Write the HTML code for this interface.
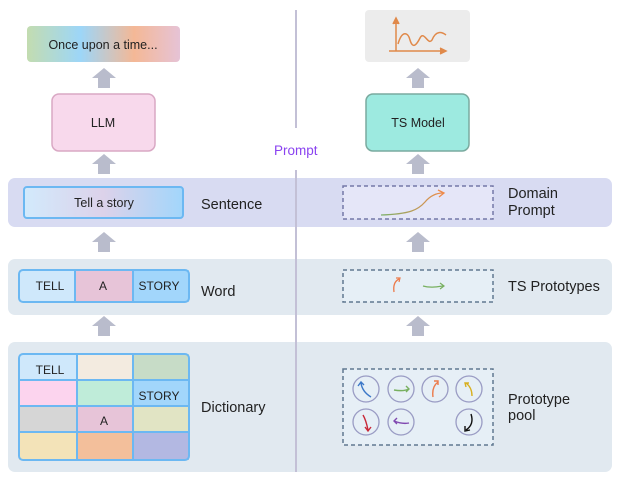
<!DOCTYPE html>
<html><head><meta charset="utf-8"><style>
body{margin:0;background:#fff;}
svg{display:block;font-family:"Liberation Sans",sans-serif;}
</style></head><body>
<svg width="621" height="481" viewBox="0 0 621 481" xmlns="http://www.w3.org/2000/svg">
<defs>
<linearGradient id="g1" x1="0" x2="1"><stop offset="0" stop-color="#c3dcb0"/><stop offset="0.35" stop-color="#9dd6f8"/><stop offset="0.7" stop-color="#f4b896"/><stop offset="1" stop-color="#e6c3d6"/></linearGradient>
<linearGradient id="g2" x1="0" x2="1"><stop offset="0" stop-color="#d2eafc"/><stop offset="0.5" stop-color="#dcd2ea"/><stop offset="1" stop-color="#a2d6fb"/></linearGradient>
<linearGradient id="g3" x1="0" x2="1"><stop offset="0" stop-color="#7cb06a"/><stop offset="1" stop-color="#ee8a4a"/></linearGradient>
<g id="ar"><path d="M-6,20 L-6,10 L-12,10 L0,0 L12,10 L6,10 L6,20 Z" fill="#b9bccc"/></g>
</defs>
<rect x="8" y="178" width="604" height="49" rx="7" fill="#d8dbf2"/>
<rect x="8" y="259" width="604" height="56" rx="7" fill="#e1e9f0"/>
<rect x="8" y="342" width="604" height="130" rx="7" fill="#e1e9f0"/>
<line x1="296" y1="10" x2="296" y2="128" stroke="#c3c0d6" stroke-width="2"/>
<line x1="296" y1="170" x2="296" y2="472" stroke="#c3c0d6" stroke-width="2"/>
<text x="274" y="155" font-size="13.5" fill="#8a43f0">Prompt</text>
<rect x="27" y="26" width="153" height="36" rx="4" fill="url(#g1)"/>
<text x="103" y="49" text-anchor="middle" font-size="12.5" fill="#222">Once upon a time...</text>
<use href="#ar" x="104" y="68"/>
<rect x="52" y="94" width="103" height="57" rx="7" fill="#f8d9ec" stroke="#d9a8c4" stroke-width="1.5"/>
<text x="103" y="127" text-anchor="middle" font-size="12.5" fill="#222">LLM</text>
<use href="#ar" x="104" y="154"/>
<rect x="24" y="187" width="159" height="31" rx="3" fill="url(#g2)" stroke="#6cb8f2" stroke-width="2"/>
<text x="104" y="207" text-anchor="middle" font-size="12.5" fill="#222">Tell a story</text>
<text x="201" y="209" font-size="14.5" fill="#222">Sentence</text>
<use href="#ar" x="104" y="232"/>
<rect x="19" y="270" width="56" height="32" fill="#cfe8fb"/>
<rect x="75" y="270" width="58" height="32" fill="#e7c4d8"/>
<rect x="133" y="270" width="56" height="32" fill="#a2d6fb"/>
<rect x="19" y="270" width="170" height="32" rx="4" fill="none" stroke="#6cb8f2" stroke-width="2"/>
<line x1="75" y1="270" x2="75" y2="302" stroke="#6cb8f2" stroke-width="2"/>
<line x1="133" y1="270" x2="133" y2="302" stroke="#6cb8f2" stroke-width="2"/>
<g font-size="12" fill="#222" text-anchor="middle">
<text x="50" y="290">TELL</text><text x="103" y="290">A</text><text x="159" y="290">STORY</text></g>
<text x="201" y="296" font-size="14.5" fill="#222">Word</text>
<use href="#ar" x="104" y="316"/>
<g>
<rect x="19" y="354" width="58" height="26" fill="#cfe8fb"/><rect x="77" y="354" width="56" height="26" fill="#f3ebe0"/><rect x="133" y="354" width="56" height="26" fill="#c7dcc7"/>
<rect x="19" y="380" width="58" height="26" fill="#fcd4ee"/><rect x="77" y="380" width="56" height="26" fill="#bfecd9"/><rect x="133" y="380" width="56" height="26" fill="#a2d6fb"/>
<rect x="19" y="406" width="58" height="26" fill="#d6d6d6"/><rect x="77" y="406" width="56" height="26" fill="#e7c4d8"/><rect x="133" y="406" width="56" height="26" fill="#e1e4c4"/>
<rect x="19" y="432" width="58" height="28" fill="#f3e3b8"/><rect x="77" y="432" width="56" height="28" fill="#f3bf9b"/><rect x="133" y="432" width="56" height="28" fill="#b3b8e2"/>
<rect x="19" y="354" width="170" height="106" rx="4" fill="none" stroke="#6cb8f2" stroke-width="2"/>
<g stroke="#6cb8f2" stroke-width="2"><line x1="77" y1="354" x2="77" y2="460"/><line x1="133" y1="354" x2="133" y2="460"/><line x1="19" y1="380" x2="189" y2="380"/><line x1="19" y1="406" x2="189" y2="406"/><line x1="19" y1="432" x2="189" y2="432"/></g>
<g font-size="12" fill="#222" text-anchor="middle"><text x="50" y="374">TELL</text><text x="159" y="400">STORY</text><text x="104" y="425">A</text></g>
</g>
<text x="201" y="412" font-size="14.5" fill="#222">Dictionary</text>
<rect x="365" y="10" width="105" height="52" rx="4" fill="#ececec"/>
<g stroke="#e0894a" stroke-width="1.5" fill="none">
<line x1="396" y1="51" x2="396" y2="20"/><path d="M393,24 L396,18 L399,24" fill="#e0894a"/>
<line x1="389" y1="51" x2="444" y2="51"/><path d="M440,48 L446,51 L440,54" fill="#e0894a"/>
<path d="M398,44 C402,30 408,32 410,40 C413,50 417,44 420,38 C424,30 428,46 432,40 C436,30 442,32 446,35"/>
</g>
<use href="#ar" x="418" y="68"/>
<rect x="366" y="94" width="103" height="57" rx="7" fill="#9deae0" stroke="#7aaa9f" stroke-width="1.5"/>
<text x="418" y="127" text-anchor="middle" font-size="12.5" fill="#222">TS Model</text>
<use href="#ar" x="418" y="154"/>
<rect x="343" y="186" width="150" height="33" fill="#e5e6f8" stroke="#7478a8" stroke-width="1.5" stroke-dasharray="4,3"/>
<path d="M381,215 C410,214 418,210 425,202 C430,196 436,193 443,193" stroke="url(#g3)" stroke-width="1.3" fill="none"/>
<path d="M438,190 L444,193 L439,197" stroke="#ee8a4a" stroke-width="1.3" fill="none"/>
<text x="508" y="198" font-size="14.5" fill="#222">Domain</text>
<text x="508" y="215" font-size="14.5" fill="#222">Prompt</text>
<use href="#ar" x="418" y="232"/>
<rect x="343" y="270" width="150" height="32" fill="#e6eff6" stroke="#607890" stroke-width="1.5" stroke-dasharray="4,3"/>
<path d="M394,292 C393,285 395,281 399,279" stroke="#ec7a4a" stroke-width="1.3" fill="none"/><path d="M396,278 L400,278 L399,282" stroke="#ec7a4a" stroke-width="1.2" fill="none"/>
<path d="M423,286 C430,288 436,287 443,286" stroke="#78b060" stroke-width="1.3" fill="none"/><path d="M440,283 L444,286 L440,289" stroke="#78b060" stroke-width="1.2" fill="none"/>
<text x="508" y="291" font-size="14.5" fill="#222">TS Prototypes</text>
<use href="#ar" x="418" y="316"/>
<rect x="343" y="369" width="150" height="76" fill="#e6eff6" stroke="#607890" stroke-width="1.5" stroke-dasharray="4,3"/>
<g fill="none" stroke="#9a9cc4" stroke-width="1.3">
<circle cx="366" cy="389" r="13"/><circle cx="401" cy="389" r="13"/><circle cx="435" cy="389" r="13"/><circle cx="469" cy="389" r="13"/>
<circle cx="366" cy="422" r="13"/><circle cx="401" cy="422" r="13"/><circle cx="469" cy="422" r="13"/>
</g>
<g fill="none" stroke-width="1.4">
<path d="M371,397 C366,394 362,390 361,383 M358,386 L361,382 L364,385" stroke="#3c78c8"/>
<path d="M394,390 C400,391 405,391 409,389 M406,386 L409,389 L406,392" stroke="#78b060"/>
<path d="M433,397 C432,390 434,385 438,382 M434,381 L438,381 L438,385" stroke="#ec7a4a"/>
<path d="M472,396 C472,390 470,386 466,383 M466,387 L465,383 L469,383" stroke="#d8b020"/>
<path d="M363,415 C366,420 367,425 368,430 M365,427 L368,431 L371,427" stroke="#c82838"/>
<path d="M409,423 C404,424 399,423 394,421 M397,418 L394,421 L397,424" stroke="#8048b0"/>
<path d="M471,414 C473,420 472,426 466,430 M465,426 L465,431 L470,430" stroke="#111"/>
</g>
<text x="508" y="404" font-size="14.5" fill="#222">Prototype</text>
<text x="508" y="420" font-size="14.5" fill="#222">pool</text>
</svg>
</body></html>
